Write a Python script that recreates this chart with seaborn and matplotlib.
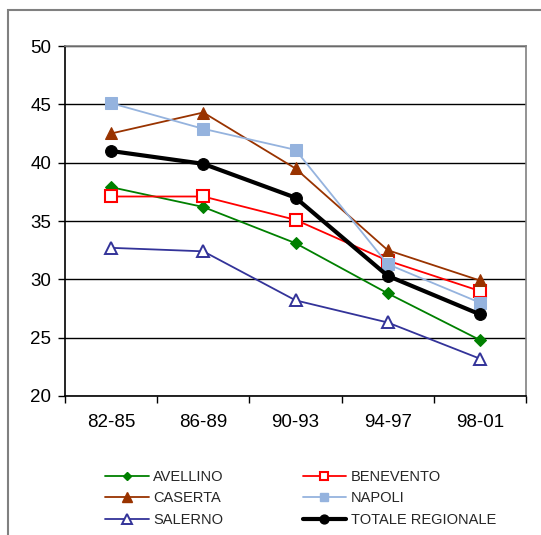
import matplotlib
matplotlib.use("Agg")
import matplotlib.pyplot as plt
from matplotlib.patches import Rectangle
from matplotlib.lines import Line2D
import seaborn as sns
import pandas as pd

periods = ["82-85", "86-89", "90-93", "94-97", "98-01"]
avellino = [37.9, 36.2, 33.1, 28.8, 24.8]
benevento = [37.1, 37.1, 35.1, 31.6, 29.0]
caserta = [42.5, 44.3, 39.5, 32.5, 29.9]
napoli = [45.1, 42.9, 41.1, 31.3, 28.0]
salerno = [32.7, 32.4, 28.2, 26.3, 23.2]
totale = [41.0, 39.9, 37.0, 30.3, 27.0]

sns.set_theme(style="white")
plt.rcParams["font.family"] = ["Liberation Sans", "DejaVu Sans"]

fig = plt.figure(figsize=(5.41, 5.35), dpi=100)
W, H = 541, 535
ax = fig.add_axes([65 / W, 1 - 396 / H, (526 - 65) / W, (396 - 46) / H])

series = [
    ("AVELLINO", avellino, dict(color="#008000", marker="D", markersize=6, markerfacecolor="#008000", markeredgecolor="#008000", linewidth=1.3)),
    ("BENEVENTO", benevento, dict(color="#FF0000", marker="s", markersize=8, markerfacecolor="white", markeredgecolor="#FF0000", markeredgewidth=1.5, linewidth=1.3)),
    ("CASERTA", caserta, dict(color="#993300", marker="^", markersize=9, markerfacecolor="#993300", markeredgecolor="#993300", linewidth=1.3)),
    ("NAPOLI", napoli, dict(color="#95B3DE", marker="s", markersize=8.5, markerfacecolor="#95B3DE", markeredgecolor="#95B3DE", linewidth=1.3)),
    ("SALERNO", salerno, dict(color="#333399", marker="^", markersize=9, markerfacecolor="white", markeredgecolor="#333399", markeredgewidth=1.4, linewidth=1.3)),
    ("TOTALE REGIONALE", totale, dict(color="black", marker="o", markersize=8.5, markerfacecolor="black", markeredgecolor="black", linewidth=3.0)),
]

handles = {}
for name, vals, st in series:
    df = pd.DataFrame({"periodo": periods, "valore": vals})
    sns.lineplot(data=df, x="periodo", y="valore", ax=ax, sort=False, **st)
    handles[name] = Line2D([], [], **st)

ax.set_xlim(-0.5, 4.5)
ax.set_ylim(20, 50)
ax.set_yticks([20, 25, 30, 35, 40, 45, 50])
ax.set_xticks(range(5))
ax.set_xticklabels(periods)
ax.set_xticks([-0.5, 0.5, 1.5, 2.5, 3.5, 4.5], minor=True)
ax.tick_params(axis="x", which="major", length=0, labelsize=13.5, pad=13, colors="black")
ax.tick_params(axis="x", which="minor", length=5, width=1, color="black", direction="out", bottom=True)
ax.tick_params(axis="y", which="major", length=5, width=1, color="black", direction="out", left=True, labelsize=13.5, pad=5, labelcolor="black")
ax.set_xlabel("")
ax.set_ylabel("")
ax.grid(axis="y", color="black", linewidth=1.0)
ax.set_axisbelow(True)
for side in ["left", "bottom"]:
    ax.spines[side].set_color("black")
    ax.spines[side].set_linewidth(1.2)
for side in ["top", "right"]:
    ax.spines[side].set_color("#808080")
    ax.spines[side].set_linewidth(1.2)
ax.spines["top"].set_visible(True)
ax.spines["right"].set_visible(True)

order = ["AVELLINO", "CASERTA", "SALERNO", "BENEVENTO", "NAPOLI", "TOTALE REGIONALE"]
leg = fig.legend([handles[n] for n in order], order, ncol=2, loc="upper left",
                 bbox_to_anchor=(92 / W, 1 - 457 / H), frameon=False,
                 fontsize=10.5, handlelength=3.0, handletextpad=0.3,
                 columnspacing=5.4, labelspacing=0.5, markerscale=0.75)

fig.patches.append(Rectangle((7.5 / W, -0.2), 2.0, (535 - 9.5) / H + 0.2,
                             transform=fig.transFigure, fill=False,
                             edgecolor="#808080", linewidth=1.5))

fig.savefig("out.png", dpi=100)
